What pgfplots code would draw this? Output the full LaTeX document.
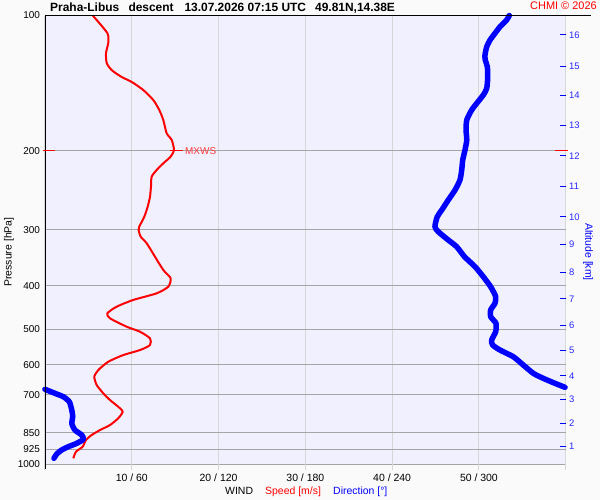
\documentclass[border=0pt]{standalone}
\usepackage{pgfplots}
\pgfplotsset{compat=1.18}
\usepackage{fontspec}
\setmainfont{Liberation Sans}
\definecolor{bgc}{RGB}{240,240,255}
\definecolor{pagebg}{RGB}{250,250,250}
\definecolor{vgrid}{RGB}{215,215,215}
\definecolor{hgrid}{RGB}{165,165,165}
\definecolor{myred}{RGB}{255,0,0}
\definecolor{lred}{RGB}{255,60,60}
\definecolor{myblue}{RGB}{0,0,255}
\definecolor{tblue}{RGB}{40,40,255}
\newcommand\fs{\fontsize{10}{12}\selectfont}
\newcommand\fsa{\fontsize{10.5}{12}\selectfont}
\begin{document}
\begin{tikzpicture}
\fill[pagebg] (-45bp,-35.7bp) rectangle (555bp,464.3bp);
\useasboundingbox (-45bp,-35.7bp) rectangle (555bp,464.3bp);
\begin{axis}[
 scale only axis, width=520.7bp, height=448.8bp,
 at={(0,0)}, anchor=south west,
 xmin=0, xmax=60, ymode=log, ymin=100, ymax=1000, y dir=reverse,
 axis background/.style={fill=bgc},
 axis line style={draw=none},
 xtick={0,10,...,60},
 xticklabels={,10 / 60,20 / 120,30 / 180,40 / 240,50 / 300,},
 xtick pos=left, ytick pos=left,
 ytick={100,200,300,400,500,600,700,850,925,1000},
 yticklabels={100,200,300,400,500,600,700,850,925,1000},
 minor ytick={},
 x tick style={draw=vgrid, line width=1bp},
 y tick style={draw=none},
 xtick align=outside, major tick length=6bp,
 grid=major,
 x grid style={vgrid, line width=1bp},
 y grid style={hgrid, line width=1bp},
 xticklabel style={font=\fsa, text=black},
 yticklabel style={font=\fs, text=black, xshift=-1.5bp},
]
\addplot[myred, line width=2bp, line join=round, smooth, tension=0.4] coordinates {
(5.50,100) (7.18,109.4) (7.29,115.1) (7.03,121.2) (7.11,127.6) (7.68,132.3)
(8.84,137.1) (9.99,140.6) (11.33,146.6) (12.48,154.3) (13.17,162.4) (13.63,170.9)
(14.02,183.0) (14.60,189.4) (14.86,199.3) (14.48,206.3) (13.63,213.5) (12.87,220.9)
(12.29,228.7) (12.21,240.7) (12.10,253.4) (11.83,266.7) (11.44,280.8) (10.86,295.5)
(10.79,300.6) (11.03,311.1) (11.72,321.8) (12.67,344.6) (13.63,369.0) (14.48,385.1)
(14.20,402.1) (12.87,415.9) (10.17,430.3) (8.26,445.4) (7.18,460.8) (7.49,472.8)
(9.41,493.6) (10.94,506.4) (12.10,524.0) (12.10,542.3) (10.94,556.5) (9.02,570.9)
(7.29,590.9) (6.14,616.6) (5.68,638.1) (5.96,665.9) (6.72,694.9) (7.49,719.2)
(8.44,744.3) (8.95,763.7) (8.44,789.9) (7.49,817.5) (6.34,838.8) (5.38,860.5)
(4.72,882.9) (4.34,913.7) (3.57,937.5) (3.26,969.7)
};
\end{axis}
\begin{axis}[
 scale only axis, width=520.7bp, height=448.8bp,
 at={(0,0)}, anchor=south west,
 xmin=0, xmax=360, ymode=log, ymin=100, ymax=1000, y dir=reverse,
 hide x axis, axis y line*=right, y axis line style={draw=none},
 ytick={110.5,129.6,150.9,176.0,205.6,240.7,280.8,323.4,374.2,428.1,490.1,556.5,634.9,716.6,810.3,913.7},
 yticklabels={16,15,14,13,12,11,10,9,8,7,6,5,4,3,2,1},
 minor ytick={},
 y tick style={draw=myblue, line width=1bp},
 ytick align=inside, major tick length=6bp,
 yticklabel style={font=\fontsize{9.5}{11}\selectfont, text=tblue},
 clip=false,
]
\addplot[myblue, line width=5.5bp, line cap=round, line join=round, smooth, tension=0.4] coordinates {
(321.0,100) (319.2,102.3) (314.6,105.9) (311.1,109.6) (307.7,113.4) (305.4,117.4)
(304.2,122.5) (304.4,125.6) (305.8,130.0) (306.1,136.9) (305.4,145.3) (303.0,150.4)
(298.5,156.9) (295.0,162.4) (291.6,170.9) (291.1,179.9) (291.6,189.4) (290.4,199.3)
(288.8,209.9) (288.1,220.9) (286.9,232.5) (283.5,244.8) (278.8,257.7) (274.3,271.3)
(271.2,280.8) (269.6,295.5) (271.9,303.2) (278.8,316.4) (284.6,327.4) (290.0,344.6)
(297.3,362.8) (303.0,381.9) (308.1,402.1) (311.6,423.1) (311.1,437.7) (308.1,453.1)
(308.1,468.9) (311.8,485.1) (311.6,506.4) (308.8,528.6) (309.5,542.3) (314.6,556.5)
(323.8,575.9) (330.7,601.0) (337.6,627.1) (344.5,643.4) (352.6,660.1) (359.5,673.8)
};
\addplot[myblue, line width=5.5bp, line cap=round, line join=round, smooth, tension=0.4] coordinates {
(0,680.6) (6.9,694.9) (12.7,707.1) (16.8,725.5) (18.5,756.8) (19.2,783.4)
(18.5,810.3) (20.7,838.8) (25.4,860.5) (26.5,879.7) (21.9,898.0) (16.1,913.7)
(11.5,929.3) (8.1,948.6) (6.2,969.7)
};
\end{axis}
% frame lines
\draw[black, line width=1bp] (0,-4.7bp) -- (0,448.8bp) -- (546bp,448.8bp);
% MXWS markers at 200 hPa
\draw[myred, line width=1bp] (-2bp,313.7bp) -- (10bp,313.7bp);
\draw[myred, line width=1bp] (125bp,313.7bp) -- (138.3bp,313.7bp);
\draw[myred, line width=1bp] (510bp,313.7bp) -- (522.7bp,313.7bp);
\node[anchor=west, inner sep=0pt, text=lred, font=\fs] at (140bp,313.7bp) {MXWS};
% title
\begin{scope}[every node/.style={anchor=base west, inner sep=0pt, font=\fontsize{12}{14}\selectfont\bfseries}]
\node at (5bp,452.6bp) {Praha-Libus};
\node at (83.3bp,452.6bp) {descent};
\node at (139.3bp,452.6bp) {13.07.2026 07:15 UTC};
\node at (270bp,452.6bp) {49.81N,14.38E};
\end{scope}
\node[anchor=base west, inner sep=0pt, text=myred, font=\fontsize{11}{13}\selectfont] at (485bp,454.3bp) {CHMI © 2026};
% axis labels
\node[anchor=base west, inner sep=0pt, font=\fsa] at (180bp,-30bp) {WIND};
\node[anchor=base west, inner sep=0pt, font=\fsa, text=myred] at (220bp,-30bp) {Speed [m/s]};
\node[anchor=base west, inner sep=0pt, font=\fsa, text=myblue] at (288bp,-30bp) {Direction [°]};
\node[rotate=90, inner sep=0pt, font=\fsa] at (-36bp,212.3bp) {Pressure [hPa]};
\node[rotate=-90, inner sep=0pt, font=\fsa, text=myblue] at (543bp,212.3bp) {Altitude [km]};
\end{tikzpicture}
\end{document}
